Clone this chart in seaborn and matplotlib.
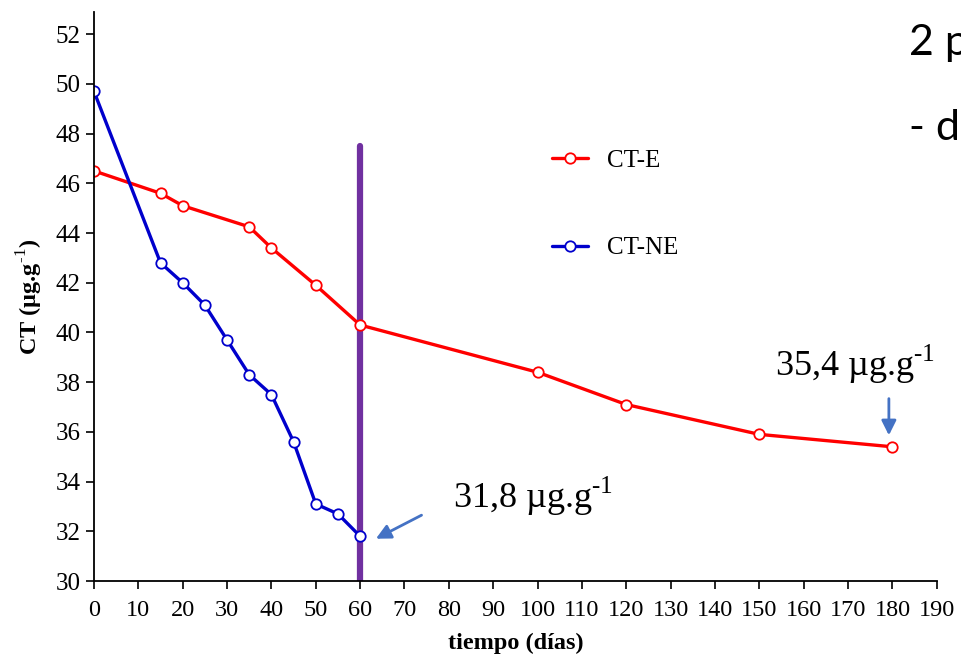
import pandas as pd
import numpy as np
import matplotlib.pyplot as plt
import seaborn as sns

# --- data ---
dias_e = [0, 15, 20, 35, 40, 50, 60, 100, 120, 150, 180]
ct_e = [46.5, 45.6, 45.1, 44.25, 43.4, 41.9, 40.3, 38.4, 37.1, 35.9, 35.4]
dias_ne = [0, 15, 20, 25, 30, 35, 40, 45, 50, 55, 60]
ct_ne = [49.7, 42.8, 42.0, 41.1, 39.7, 38.3, 37.5, 35.6, 33.1, 32.7, 31.8]
x_ticks = list(range(0, 200, 10))
y_ticks = list(range(30, 54, 2))

df = pd.concat([
    pd.DataFrame({'dia': dias_e, 'ct': ct_e, 'serie': 'CT-E'}),
    pd.DataFrame({'dia': dias_ne, 'ct': ct_ne, 'serie': 'CT-NE'}),
])

sns.set_style('ticks')
plt.rcParams['font.family'] = ['Liberation Serif', 'DejaVu Serif']
plt.rcParams['mathtext.fontset'] = 'custom'
plt.rcParams['mathtext.rm'] = 'Liberation Serif'
plt.rcParams['mathtext.bf'] = 'Liberation Serif:bold'
for k in ['text.color', 'axes.labelcolor', 'xtick.color', 'ytick.color', 'axes.edgecolor']:
    plt.rcParams[k] = 'black'

fig = plt.figure(figsize=(9.61, 6.58), dpi=100)
ax = fig.add_axes([0.0978, 0.117, 0.877, 0.865])

colores = {'CT-E': '#FF0000', 'CT-NE': '#0000CC'}
for serie, sub in df.groupby('serie'):
    sns.lineplot(data=sub, x='dia', y='ct', ax=ax, color=colores[serie], label=serie,
                 linewidth=2.4, marker='o', markersize=7.5, markerfacecolor='white',
                 markeredgecolor=colores[serie], markeredgewidth=1.3)

# purple vertical line at day 60
ax.plot([60, 60], [30, 47.5], color='#7030A0', linewidth=4.5, zorder=1)

ax.set_xlim(0, 190)
ax.set_ylim(30, 52.9)
ax.set_xticks(x_ticks)
ax.set_yticks(y_ticks)
ax.tick_params(length=6, width=1.2, direction='out')
ax.tick_params(axis='x', labelsize=17.5, pad=8)
ax.tick_params(axis='y', labelsize=18)
for s in ['left', 'bottom']:
    ax.spines[s].set_linewidth(1.3)
sns.despine(ax=ax)

ax.set_xlabel('tiempo (días)', fontsize=17.5, fontweight='bold', labelpad=8)
ax.set_ylabel(r'CT (µg.g$^{\mathbf{\text{-1}}}$)', fontsize=17.5, fontweight='bold', labelpad=8)

ax.legend(loc='upper left', bbox_to_anchor=(0.531, 0.776), frameon=False, fontsize=18,
          handlelength=1.45, handletextpad=0.76, labelspacing=2.6, borderpad=0.4,
          borderaxespad=0)

# annotations
ax.text(153.5, 38.7, r'35,4 µg.g$^{\text{-1}}$', fontsize=26, va='center', ha='left')
ax.annotate('', xy=(179.2, 35.75), xytext=(179.2, 37.45),
            arrowprops=dict(arrowstyle='-|>', color='#4472C4', lw=2, mutation_scale=22))
ax.text(81, 33.4, r'31,8 µg.g$^{\text{-1}}$', fontsize=26, va='center', ha='left')
ax.annotate('', xy=(63.0, 31.65), xytext=(74.4, 32.7),
            arrowprops=dict(arrowstyle='-|>', color='#4472C4', lw=2, mutation_scale=22))

# cut-off slide text at top right
fig.text(0.946, 0.935, '2 p', fontsize=31, family=['Lato', 'DejaVu Sans'], va='center', ha='left')
fig.text(0.946, 0.805, '- d', fontsize=31, family=['Lato', 'DejaVu Sans'], va='center', ha='left')

plt.savefig('out.png', dpi=100)
